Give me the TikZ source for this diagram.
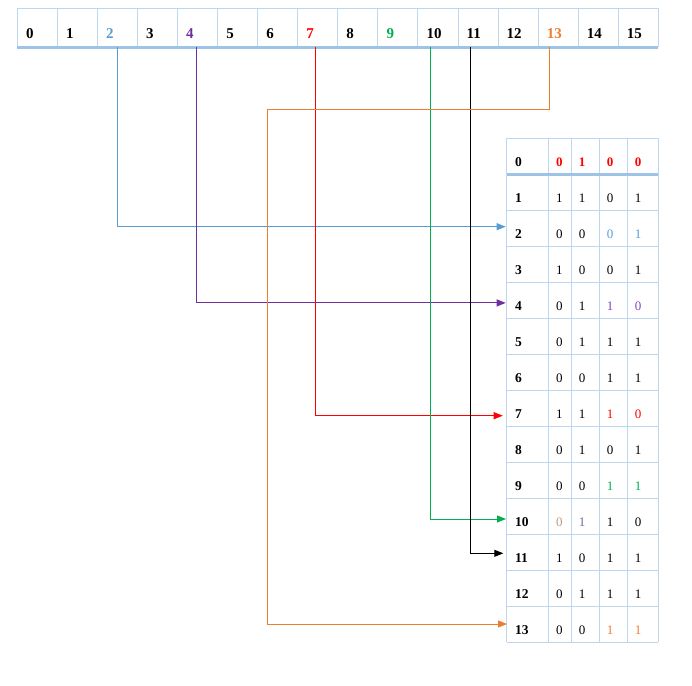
\documentclass[tikz,border=0pt]{standalone}
\usepackage{fontspec}
\setmainfont{Liberation Serif}
\usetikzlibrary{arrows.meta}
\definecolor{grid}{RGB}{189,215,238}
\definecolor{gridthick}{RGB}{157,195,230}
\definecolor{cblue}{RGB}{91,155,213}
\definecolor{cpurple}{RGB}{112,48,160}
\definecolor{cpurplel}{RGB}{130,70,190}
\definecolor{cred}{RGB}{255,0,0}
\definecolor{cgreen}{RGB}{0,176,80}
\definecolor{corange}{RGB}{237,125,49}
\definecolor{ctan}{RGB}{196,150,120}
\definecolor{cslate}{RGB}{128,100,162}
\begin{document}
\begin{tikzpicture}[x=1pt,y=-1pt,
 gridline/.style={draw=grid,line width=0.9pt},
 thickline/.style={draw=gridthick,line width=2.4pt},
 toplab/.style={anchor=base west,inner sep=0pt,font=\fontsize{15}{15}\selectfont\bfseries},
 rowlab/.style={anchor=base west,inner sep=0pt,font=\fontsize{13.5}{13.5}\selectfont\bfseries},
 bit/.style={anchor=base west,inner sep=0pt,font=\fontsize{13}{13}\selectfont},
 hbit/.style={bit,font=\fontsize{13}{13}\selectfont\bfseries,text=cred},
 conn/.style={line width=1pt,-{Triangle[length=9pt,width=7pt]}},
]
\path[fill=white] (0,0) rectangle (692,685);
\useasboundingbox (0,0) rectangle (692,685);

% top array
\foreach \i in {0,...,16} \draw[gridline] ({17.3+40.06*\i},8.3) -- ({17.3+40.06*\i},47.5);
\draw[gridline] (17.3,8.3) -- (658.3,8.3);
\draw[thickline] (17.3,47.5) -- (658.3,47.5);
\foreach \i/\c in {0/black,1/black,2/cblue,3/black,4/cpurple,5/black,6/black,7/cred,8/black,9/cgreen,10/black,11/black,12/black,13/corange,14/black,15/black}
  \node[toplab,text=\c] (t\i) at ({17.3+40.06*\i+8.5},38.3) {\i};

% right table
\foreach \r in {0,...,14} \draw[gridline] (506.7,{138.3+36*\r}) -- (658.3,{138.3+36*\r});
\foreach \x in {506.7,548.3,571.3,599.3,627.3,658.3} \draw[gridline] (\x,138.3) -- (\x,642.3);
\draw[thickline] (506.7,174.3) -- (658.3,174.3);

\foreach \r in {0,...,13} \node[rowlab] (r\r) at (515,{138.3+36*\r+28.3}) {\r};

% header bits
\node[hbit] (b0-1) at (555.8,166.6) {0};
\node[hbit] (b0-2) at (578.6,166.6) {1};
\node[hbit] (b0-3) at (606.6,166.6) {0};
\node[hbit] (b0-4) at (634.6,166.6) {0};

\foreach \r/\a/\ca/\b/\cb/\c/\cc/\d/\cd in {
 1/1/black/1/black/0/black/1/black,
 2/0/black/0/black/0/cblue/1/cblue,
 3/1/black/0/black/0/black/1/black,
 4/0/black/1/black/1/cpurplel/0/cpurplel,
 5/0/black/1/black/1/black/1/black,
 6/0/black/0/black/1/black/1/black,
 7/1/black/1/black/1/cred/0/cred,
 8/0/black/1/black/0/black/1/black,
 9/0/black/0/black/1/cgreen/1/cgreen,
 10/0/ctan/1/cslate/1/black/0/black,
 11/1/black/0/black/1/black/1/black,
 12/0/black/1/black/1/black/1/black,
 13/0/black/0/black/1/corange/1/corange}{
  \node[bit,text=\ca] (b\r-1) at (555.8,{138.3+36*\r+28.3}) {\a};
  \node[bit,text=\cb] (b\r-2) at (578.6,{138.3+36*\r+28.3}) {\b};
  \node[bit,text=\cc] (b\r-3) at (606.6,{138.3+36*\r+28.3}) {\c};
  \node[bit,text=\cd] (b\r-4) at (634.6,{138.3+36*\r+28.3}) {\d};
}

% connectors
\coordinate (s2) at (117.3,47.5);  \coordinate (e2) at (505.7,226.7);
\coordinate (s4) at (196.7,47.5);  \coordinate (e4) at (505.7,302.9);
\coordinate (s7) at (315.7,47.5);  \coordinate (e7) at (502.7,415.7);
\coordinate (s9) at (430.3,47.5);  \coordinate (e9) at (506,519);
\coordinate (s11) at (470.3,47.5); \coordinate (e11) at (503.3,553.3);
\coordinate (s13) at (549.3,47.5); \coordinate (k13) at (549.3,109.3);
\coordinate (m13) at (267,109.3);  \coordinate (e13) at (507,624);

\draw[conn,cblue] (s2) |- (e2);
\draw[conn,cpurple] (s4) |- (e4);
\draw[conn,cred] (s7) |- (e7);
\draw[conn,cgreen] (s9) |- (e9);
\draw[conn,black] (s11) |- (e11);
\draw[conn,corange] (s13) -- (k13) -- (m13) |- (e13);
\end{tikzpicture}
\end{document}
